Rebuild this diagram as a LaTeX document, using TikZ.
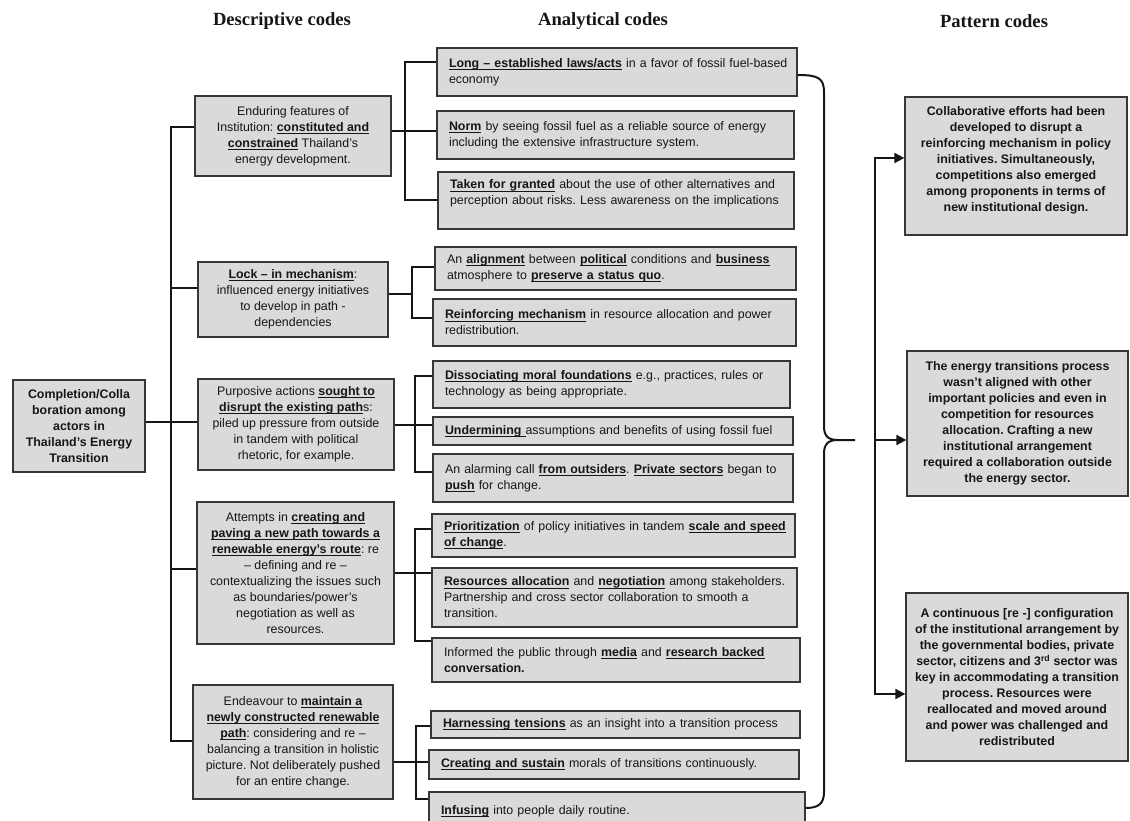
\documentclass[tikz,border=0pt]{standalone}
\usepackage{fontspec}
\setmainfont{Liberation Sans}
\newfontfamily\headfont{Liberation Serif}
\usetikzlibrary{arrows.meta}

\definecolor{boxfill}{RGB}{218,218,218}
\definecolor{boxline}{RGB}{55,55,55}
\definecolor{ink}{RGB}{22,22,22}

\frenchspacing
\newcommand\bodysize{\fontsize{12.4}{16}\selectfont\frenchspacing}
% bold, underlined key phrase
\newcommand\ub[1]{\setbox0\hbox{\bfseries#1}\leavevmode\rlap{\rule[-2.7pt]{\wd0}{1.1pt}}\box0\relax}
% a line stretched to the full text width
\newcommand\lineJ[1]{\makebox[\hsize][s]{#1}}
% a line kept in one piece
\newcommand\lineL[1]{\mbox{#1}}

\begin{document}
\begin{tikzpicture}[x=1pt,y=-1pt,
  box/.style={draw=boxline, fill=boxfill, line width=1.3pt, inner ysep=0pt,
              font=\bodysize, text=ink},
  cbox/.style={box, align=center, inner xsep=4pt},
  bbox/.style={box, align=center, inner xsep=4pt, font=\bodysize\bfseries},
  lbox/.style={box, align=left, inner xsep=12pt},
  head/.style={font=\headfont\bfseries\fontsize{18.6}{22}\selectfont, inner sep=0pt, text=ink},
  link/.style={draw=ink, line width=2pt},
  rootlink/.style={draw=ink, line width=2.8pt},
  arr/.style={draw=ink, line width=2pt, -{Triangle[length=10pt,width=10pt]}},
]
\useasboundingbox (0,0) rectangle (1130,821);
\clip (0,0) rectangle (1130,821);

% column headings
\node[head] (h1) at (282,21) {Descriptive codes};
\node[head] (h2) at (603,21) {Analytical codes};
\node[head] (h3) at (994,21) {Pattern codes};

% root
\node[bbox, minimum width=132pt, minimum height=92pt] (R) at (79,426)
  {Completion/Colla\\ boration among\\ actors in\\ Thailand’s Energy\\ Transition};

% descriptive codes
\node[cbox, minimum width=196pt, minimum height=80pt] (D1) at (293,136)
  {Enduring features of\\ Institution: \ub{constituted and}\\ \ub{constrained} Thailand’s\\ energy development.};
\node[cbox, minimum width=190pt, minimum height=75pt] (D2) at (293,299.5)
  {\ub{Lock – in mechanism}:\\ influenced energy initiatives\\ to develop in path -\\ dependencies};
\node[cbox, minimum width=196pt, minimum height=91pt] (D3) at (296,424.5)
  {Purposive actions \ub{sought to}\\ \ub{disrupt the existing path}s:\\ piled up pressure from outside\\ in tandem with political\\ rhetoric, for example.};
\node[cbox, minimum width=197pt, minimum height=142pt] (D4) at (295.5,573)
  {Attempts in \ub{creating and}\\ \ub{paving a new path towards a}\\ \ub{renewable energy’s route}: re\\ – defining and re –\\ contextualizing the issues such\\ as boundaries/power’s\\ negotiation as well as\\ resources.};
\node[cbox, minimum width=200pt, minimum height=114pt] (D5) at (293,742)
  {Endeavour to \ub{maintain a}\\ \ub{newly constructed renewable}\\ \ub{path}: considering and re –\\ balancing a transition in holistic\\ picture. Not deliberately pushed\\ for an entire change.};

% analytical codes
\node[lbox, minimum width=360pt, text width=336pt, minimum height=48pt] (A1) at (617,72)
  {\lineL{\ub{Long – established laws/acts} in a favor of fossil fuel-based}\\ \lineL{economy}};
\node[lbox, minimum width=357pt, text width=333pt, minimum height=48pt] (A2) at (615.5,135)
  {\lineL{\ub{Norm} by seeing fossil fuel as a reliable source of energy}\\ \lineL{including the extensive infrastructure system.}};
\node[lbox, minimum width=356pt, text width=332pt, minimum height=57pt] (A3) at (616,200.5)
  {\lineL{\ub{Taken for granted} about the use of other alternatives and}\\ \lineL{perception about risks. Less awareness on the implications}\\ \mbox{}};
\node[lbox, minimum width=361pt, text width=337pt, minimum height=43pt] (A4) at (615.5,268.5)
  {\lineJ{An \ub{alignment} between \ub{political} conditions and \ub{business}}\\ \lineL{atmosphere to \ub{preserve a status quo}.}};
\node[lbox, minimum width=363pt, text width=339pt, minimum height=47pt] (A5) at (614.5,322.5)
  {\lineJ{\ub{Reinforcing mechanism} in resource allocation and power}\\ \lineL{redistribution.}};
\node[lbox, minimum width=357pt, text width=333pt, minimum height=47pt] (A6) at (611.5,384.5)
  {\lineJ{\ub{Dissociating moral foundations} e.g., practices, rules or}\\ \lineL{technology as being appropriate.}};
\node[lbox, minimum width=360pt, text width=336pt, minimum height=28pt] (A7) at (613,431)
  {\lineL{\ub{Undermining\ }assumptions and benefits of using fossil fuel}};
\node[lbox, minimum width=360pt, text width=336pt, minimum height=48pt] (A8) at (613,478)
  {\lineJ{An alarming call \ub{from outsiders}. \ub{Private sectors} began to}\\ \lineL{\ub{push} for change.}};
\node[lbox, minimum width=363pt, text width=339pt, minimum height=43pt] (A9) at (613.5,535.5)
  {\lineJ{\ub{Prioritization} of policy initiatives in tandem \ub{scale and speed}}\\ \lineL{\ub{of change}.}};
\node[lbox, minimum width=365pt, text width=341pt, minimum height=59pt] (A10) at (614.5,597.5)
  {\lineL{\ub{Resources allocation} and \ub{negotiation} among stakeholders.}\\ \lineL{Partnership and cross sector collaboration to smooth a}\\ \lineL{transition.}};
\node[lbox, minimum width=368pt, text width=344pt, minimum height=44pt] (A11) at (616,660)
  {\lineJ{Informed the public through \ub{media} and \ub{research backed}}\\ \lineL{\textbf{conversation.}}};
\node[lbox, minimum width=369pt, text width=345pt, minimum height=27pt] (A12) at (615.5,724.5)
  {\lineL{\ub{Harnessing tensions} as an insight into a transition process}};
\node[lbox, minimum width=370pt, text width=346pt, minimum height=29pt] (A13) at (614,764.5)
  {\lineL{\ub{Creating and sustain} morals of transitions continuously.}};
\node[lbox, minimum width=376pt, text width=352pt, minimum height=38pt] (A14) at (617,811)
  {\lineL{\ub{Infusing} into people daily routine.}};

% pattern codes
\node[bbox, minimum width=222pt, minimum height=138pt] (P1) at (1016,166)
  {Collaborative efforts had been\\ developed to disrupt a\\ reinforcing mechanism in policy\\ initiatives. Simultaneously,\\ competitions also emerged\\ among proponents in terms of\\ new institutional design.\\[-2pt] \mbox{}};
\node[bbox, minimum width=221pt, minimum height=145pt] (P2) at (1017.5,423.5)
  {The energy transitions process\\ wasn’t aligned with other\\ important policies and even in\\ competition for resources\\ allocation. Crafting a new\\ institutional arrangement\\ required a collaboration outside\\ the energy sector.};
\node[bbox, minimum width=222pt, minimum height=168pt] (P3) at (1017,677)
  {A continuous [re -] configuration\\ of the institutional arrangement by\\ the governmental bodies, private\\ sector, citizens and 3\textsuperscript{rd} sector was\\ key in accommodating a transition\\ process. Resources were\\ reallocated and moved around\\ and power was challenged and\\ redistributed};

% trunk from the root to the descriptive codes
\coordinate (tt) at (171,127);
\coordinate (tb) at (171,741);
\draw[link] (tt -| D1.west) -- (tt) -- (tb) -- (tb -| D5.west);
\draw[link] ([yshift=12pt]D2.west) -- ([yshift=12pt]D2.west -| tt);
\draw[link] ([yshift=4pt]D4.west) -- ([yshift=4pt]D4.west -| tt);
\draw[rootlink] ([yshift=4pt]R.east) -- ([yshift=4pt]R.east -| D3.west);

% descriptive -> analytical brackets
\coordinate (g1t) at (405,62);  \coordinate (g1b) at (405,200);
\draw[link] (g1t -| A1.west) -- (g1t) -- (g1b) -- (g1b -| A3.west);
\draw[link] ([yshift=5pt]D1.east) -- ([yshift=5pt]D1.east -| A2.west);

\coordinate (g2t) at (412,267); \coordinate (g2b) at (412,318);
\draw[link] (g2t -| A4.west) -- (g2t) -- (g2b) -- (g2b -| A5.west);
\draw[link] ([yshift=6pt]D2.east) -- ([yshift=6pt]D2.east -| g2t);

\coordinate (g3t) at (415,376); \coordinate (g3b) at (415,472);
\draw[link] (g3t -| A6.west) -- (g3t) -- (g3b) -- (g3b -| A8.west);
\draw[link] (D3.east) -- (D3.east -| A7.west);

\coordinate (g4t) at (415,529); \coordinate (g4b) at (415,641);
\draw[link] (g4t -| A9.west) -- (g4t) -- (g4b) -- (g4b -| A11.west);
\draw[link] (D4.east) -- (D4.east -| A10.west);

\coordinate (g5t) at (416,726); \coordinate (g5b) at (416,799);
\draw[link] (g5t -| A12.west) -- (g5t) -- (g5b) -- (g5b -| A14.west);
\draw[link] ([yshift=-20pt]D5.east) -- ([yshift=-20pt]D5.east -| A13.west);

% curly brace gathering the analytical codes
\coordinate (brT) at ([yshift=-3pt]A1.east);
\coordinate (brB) at ([yshift=3pt]A14.east);
\coordinate (brTip) at (855,440);
\draw[link] (brT) .. controls (818,75) and (824,78) .. (824,92) -- (824,426)
  .. controls (824,436) and (828,440) .. (838,440) -- (brTip);
\draw[link] (838,440) .. controls (828,440) and (824,444) .. (824,454) -- (824,792)
  .. controls (824,804) and (818,808) .. (brB);

% arrows to the pattern codes
\coordinate (pt1) at (875,158);
\coordinate (pt2) at (875,440);
\coordinate (pt3) at (875,694);
\draw[arr] (pt3) -- (pt1) -- (pt1 -| P1.west);
\draw[arr] (pt1) -- (pt3) -- (pt3 -| P3.west);
\draw[arr] (pt2) -- (pt2 -| P2.west);
\end{tikzpicture}
\end{document}
